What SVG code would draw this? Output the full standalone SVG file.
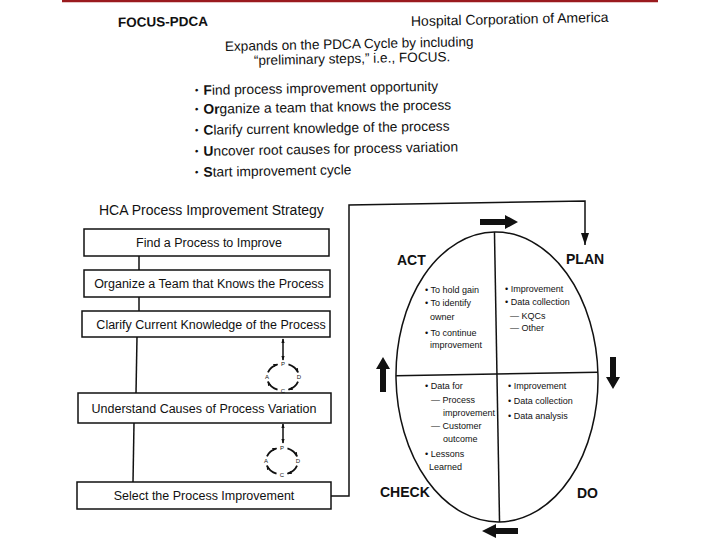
<svg xmlns="http://www.w3.org/2000/svg" width="720" height="540" viewBox="0 0 720 540">
<defs>
<style>
.t{font-family:"Liberation Sans",Arial,Helvetica,sans-serif;fill:#111}
.b{font-weight:bold}
.h{font-size:14px}
.bl{font-size:13.8px}
.bx{font-size:12.5px}
.q{font-size:9px}
.m{font-size:6px}
.dot{font-size:10px}
.box{fill:#fff;stroke:#111;stroke-width:1.5}
.ln{fill:none;stroke:#111;stroke-width:1.5}
.arc{fill:none;stroke:#111;stroke-width:1.8}
.thick{fill:#111}
</style>
<marker id="ah" viewBox="0 0 12 8" refX="12" refY="4" markerWidth="12" markerHeight="8" orient="auto" markerUnits="userSpaceOnUse"><path d="M0,0 L12,4 L0,8 z" fill="#111"/></marker>
<marker id="mh" viewBox="0 0 6 4" refX="5" refY="2" markerWidth="5" markerHeight="3.6" orient="auto-start-reverse" markerUnits="userSpaceOnUse"><path d="M0,0 L6,2 L0,4 z" fill="#111"/></marker>
</defs>
<rect width="720" height="540" fill="#fff"/>
<line x1="62" y1="1" x2="658" y2="1" stroke="#9a1a1e" stroke-width="2.5"/>

<g id="header">
<text class="t b" x="118" y="27" font-size="13.5" transform="rotate(-0.8 118 27)">FOCUS-PDCA</text>
<text class="t h" x="411" y="26" transform="rotate(-1.2 411 26)">Hospital Corporation of America</text>
<text class="t" font-size="13.6" x="225" y="51" transform="rotate(-1.1 225 51)">Expands on the PDCA Cycle by including</text>
<text class="t" font-size="13.6" x="254" y="65" transform="rotate(-1.1 254 65)">“preliminary steps,” i.e., FOCUS.</text>
</g>

<g id="focus-list">
<text class="t bl" x="195" y="95" transform="rotate(-1 195 95)"><tspan class="dot" dy="-1.5">•</tspan><tspan dx="5" dy="1.5" class="b">F</tspan>ind process improvement opportunity</text>
<text class="t bl" x="195" y="114" transform="rotate(-1 195 114)"><tspan class="dot" dy="-1.5">•</tspan><tspan dx="5" dy="1.5" class="b">Or</tspan>ganize a team that knows the process</text>
<text class="t bl" x="195" y="135" transform="rotate(-1 195 135)"><tspan class="dot" dy="-1.5">•</tspan><tspan dx="5" dy="1.5" class="b">C</tspan>larify current knowledge of the process</text>
<text class="t bl" x="195" y="156" transform="rotate(-1 195 156)"><tspan class="dot" dy="-1.5">•</tspan><tspan dx="5" dy="1.5" class="b">U</tspan>ncover root causes for process variation</text>
<text class="t bl" x="195" y="177" transform="rotate(-1 195 177)"><tspan class="dot" dy="-1.5">•</tspan><tspan dx="5" dy="1.5" class="b">S</tspan>tart improvement cycle</text>
</g>

<text id="hca-title" class="t h" x="99" y="215">HCA Process Improvement Strategy</text>

<g id="connectors">
<line class="ln" x1="139" y1="256" x2="139" y2="270"/>
<line class="ln" x1="139" y1="297" x2="139" y2="311"/>
<line class="ln" x1="137" y1="337" x2="136" y2="393"/>
<line class="ln" x1="134" y1="423" x2="133" y2="482"/>
<line class="ln" x1="283" y1="339" x2="283" y2="360" marker-start="url(#mh)" marker-end="url(#mh)"/>
<line class="ln" x1="283" y1="424" x2="283" y2="443" marker-start="url(#mh)" marker-end="url(#mh)"/>
<polyline class="ln" points="331,496 349,496 349,205 585,201 585,245" marker-end="url(#ah)"/>
</g>

<g id="box-find"><rect class="box" x="84" y="229" width="245" height="27"/><text class="t bx" x="209" y="247" text-anchor="middle">Find a Process to Improve</text></g>
<g id="box-organize"><rect class="box" x="84" y="270" width="246" height="27"/><text class="t bx" x="209" y="288" text-anchor="middle">Organize a Team that Knows the Process</text></g>
<g id="box-clarify"><rect class="box" x="82" y="311" width="248" height="26"/><text class="t bx" x="211" y="329" text-anchor="middle">Clarify Current Knowledge of the Process</text></g>
<g id="box-understand"><rect class="box" x="78" y="393" width="253" height="30"/><text class="t bx" x="204" y="413" text-anchor="middle">Understand Causes of Process Variation</text></g>
<g id="box-select"><rect class="box" x="77" y="482" width="254" height="27"/><text class="t bx" x="204" y="500" text-anchor="middle">Select the Process Improvement</text></g>

<g id="mini-pdca-1" transform="translate(283 377)">
<path class="arc" d="M5.47,-12.69 A16,13.5 0 0 1 15.04,-4.62" marker-end="url(#mh)"/>
<path class="arc" d="M15.04,4.62 A16,13.5 0 0 1 5.47,12.69" marker-end="url(#mh)"/>
<path class="arc" d="M-5.47,12.69 A16,13.5 0 0 1 -15.04,4.62" marker-end="url(#mh)"/>
<path class="arc" d="M-15.04,-4.62 A16,13.5 0 0 1 -5.47,-12.69" marker-end="url(#mh)"/>
<text class="t m" x="0" y="-11.5" text-anchor="middle">P</text>
<text class="t m" x="16" y="2" text-anchor="middle">D</text>
<text class="t m" x="0" y="15.5" text-anchor="middle">C</text>
<text class="t m" x="-16" y="2" text-anchor="middle">A</text>
</g>

<g id="mini-pdca-2" transform="translate(282 461)">
<path class="arc" d="M5.47,-12.69 A16,13.5 0 0 1 15.04,-4.62" marker-end="url(#mh)"/>
<path class="arc" d="M15.04,4.62 A16,13.5 0 0 1 5.47,12.69" marker-end="url(#mh)"/>
<path class="arc" d="M-5.47,12.69 A16,13.5 0 0 1 -15.04,4.62" marker-end="url(#mh)"/>
<path class="arc" d="M-15.04,-4.62 A16,13.5 0 0 1 -5.47,-12.69" marker-end="url(#mh)"/>
<text class="t m" x="0" y="-11.5" text-anchor="middle">P</text>
<text class="t m" x="16" y="2" text-anchor="middle">D</text>
<text class="t m" x="0" y="15.5" text-anchor="middle">C</text>
<text class="t m" x="-16" y="2" text-anchor="middle">A</text>
</g>

<g id="pdca-cycle">
<g transform="rotate(-1 497 377)">
<ellipse cx="497" cy="377" rx="101" ry="145" fill="none" stroke="#111" stroke-width="1.5"/>
<line class="ln" x1="497" y1="232" x2="497" y2="522"/>
<line class="ln" x1="396" y1="374" x2="598" y2="374"/>
</g>
<polygon class="thick" points="480,219 505,219 505,215 518,222 505,229 505,225 480,225"/>
<polygon class="thick" points="610,357 616,357 616,377 620,377 613,389 606,377 610,377"/>
<polygon class="thick" points="380,392 386,392 386,369 390,369 383,357 376,369 380,369"/>
<polygon class="thick" points="518,528 496,528 496,524 482,531 496,538 496,534 518,534"/>
</g>

<g id="act">
<text class="t b h" x="397" y="265">ACT</text>
<text class="t q" x="425" y="293">• To hold gain</text>
<text class="t q" x="425" y="306">• To identify</text>
<text class="t q" x="430" y="320">owner</text>
<text class="t q" x="425" y="336">• To continue</text>
<text class="t q" x="430" y="348">improvement</text>
</g>
<g id="plan">
<text class="t b h" x="566" y="264">PLAN</text>
<text class="t q" x="505" y="292">• Improvement</text>
<text class="t q" x="505" y="305">• Data collection</text>
<text class="t q" x="510" y="319">— KQCs</text>
<text class="t q" x="510" y="331">— Other</text>
</g>
<g id="check">
<text class="t b h" x="380" y="497">CHECK</text>
<text class="t q" x="425" y="389">• Data for</text>
<text class="t q" x="431" y="403">— Process</text>
<text class="t q" x="443" y="416">improvement</text>
<text class="t q" x="431" y="429">— Customer</text>
<text class="t q" x="443" y="442">outcome</text>
<text class="t q" x="425" y="457">• Lessons</text>
<text class="t q" x="429" y="470">Learned</text>
</g>
<g id="do">
<text class="t b h" x="577" y="498">DO</text>
<text class="t q" x="508" y="389">• Improvement</text>
<text class="t q" x="508" y="404">• Data collection</text>
<text class="t q" x="508" y="419">• Data analysis</text>
</g>
</svg>
